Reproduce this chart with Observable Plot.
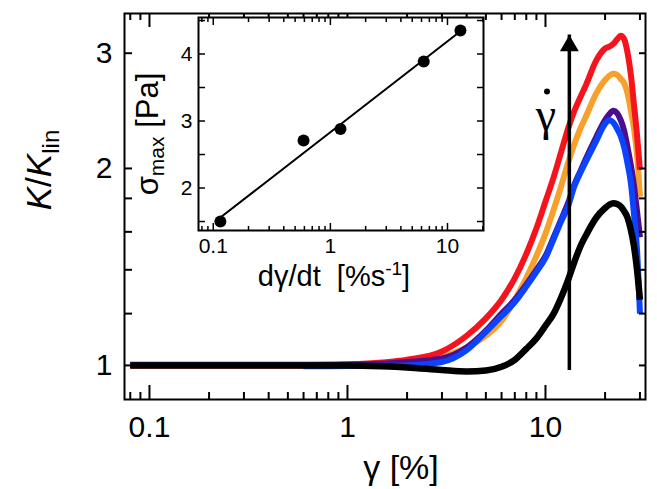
<!DOCTYPE html>
<html><head><meta charset="utf-8">
<script src="https://cdn.jsdelivr.net/npm/d3@7"></script>
<script src="https://cdn.jsdelivr.net/npm/@observablehq/plot@0.6"></script>
<style>
html,body{margin:0;padding:0;background:#fff;}
#wrap{position:relative;width:657px;height:489px;overflow:hidden;font-family:"Liberation Sans",Arial,sans-serif;}
#main,#inset{position:absolute;top:0;}
#main{left:0;}
#inset{left:150px;}
</style></head>
<body><div id="wrap"><div id="main"></div><div id="inset"></div></div>
<script>
// ---------- main panel data ----------
const strain = [0.08, 0.3, 0.6, 1, 1.5, 2, 3, 4, 5, 6, 7, 8, 9, 10, 11, 12, 13, 14, 15, 16, 18, 20, 21, 22, 23, 24, 25, 26, 27, 28, 29, 30];
const kRed    = [1, 1, 1, 1.003, 1.01, 1.02, 1.05, 1.11, 1.18, 1.26, 1.36, 1.48, 1.62, 1.78, 1.94, 2.12, 2.3, 2.45, 2.57, 2.68, 2.92, 3.05, 3.07, 3.1, 3.15, 3.19, 3.15, 3.0, 2.78, 2.5, 2.25, 1.99];
const kOrange = [1, 1, 1, 1, 1.004, 1.01, 1.03, 1.065, 1.11, 1.17, 1.26, 1.36, 1.47, 1.59, 1.73, 1.88, 2.04, 2.18, 2.3, 2.4, 2.6, 2.73, 2.77, 2.79, 2.78, 2.74, 2.7, 2.6, 2.45, 2.3, 2.1, 1.81];
const kPurple = [1.002, 1.002, 1.002, 1.003, 1.006, 1.012, 1.025, 1.065, 1.13, 1.2, 1.26, 1.33, 1.4, 1.47, 1.57, 1.67, 1.77, 1.89, 1.98, 2.07, 2.23, 2.37, 2.42, 2.45, 2.43, 2.37, 2.28, 2.15, 2.02, 1.88, 1.72, 1.57];
const kBlue   = [null, null, 0.997, 0.998, 0.999, 1.0, 1.012, 1.055, 1.125, 1.19, 1.25, 1.32, 1.39, 1.46, 1.56, 1.66, 1.75, 1.88, 1.97, 2.05, 2.2, 2.34, 2.37, 2.35, 2.3, 2.24, 2.15, 2.03, 1.9, 1.7, 1.5, 1.2];
const kBlack  = [1, 1, 1, 1, 0.997, 0.993, 0.984, 0.979, 0.982, 0.995, 1.02, 1.06, 1.1, 1.15, 1.2, 1.27, 1.35, 1.44, 1.52, 1.58, 1.68, 1.74, 1.76, 1.77, 1.765, 1.75, 1.72, 1.68, 1.61, 1.52, 1.4, 1.26];
const seriesNames  = ["orange", "red", "purple", "blue", "black"];
const seriesColors = ["#f7a02c", "#f5141e", "#4a0e8e", "#0a44ff", "#000000"];
const seriesValues = [kOrange, kRed, kPurple, kBlue, kBlack];

const xMajorTicks = [0.1, 1, 10];
const xMinorTicks = [0.08, 0.09, 0.2, 0.3, 0.4, 0.5, 0.6, 0.7, 0.8, 0.9, 2, 3, 4, 5, 6, 7, 8, 9, 20, 30];
const yTicks = [1, 1.2, 1.4, 1.6, 1.8, 2, 3];
const yTickLabels = [1, 2, 3];

// arrow (rate direction) and its label
const arrowStrain = 13.2;
const arrowK = [0.982, 3.2];
const rateLabelPos = [10.06, 2.41];

// ---------- inset data ----------
const rate  = [0.115, 0.59, 1.22, 6.27, 12.9];
const sigma = [1.5, 2.71, 2.88, 3.89, 4.35];
const fitRate  = [0.115, 12.9];
const fitSigma = [1.56, 4.34];
const insetXMajor = [0.1, 1, 10];
const insetXMinor = [0.08, 0.09, 0.2, 0.3, 0.4, 0.5, 0.6, 0.7, 0.8, 0.9, 2, 3, 4, 5, 6, 7, 8, 9, 20];
const insetYTicks = [1.5, 2, 2.5, 3, 3.5, 4, 4.5];
const insetYLabels = [2, 3, 4];

const FONT = "Liberation Sans, Arial, sans-serif";
const SERIF = "Liberation Serif, DejaVu Serif, serif";

// ---------- main plot ----------
const lineMarks = seriesNames.map((name, si) => {
  const rows = strain.map((x, i) => ({x, y: seriesValues[si][i]})).filter(d => d.y != null);
  return Plot.line(rows, {x: "x", y: "y", stroke: seriesColors[si], strokeWidth: name === "black" ? 6.5 : 6, curve: "monotone-x", strokeLinecap: "butt", strokeLinejoin: "round"});
});

const main = Plot.plot({
  width: 657, height: 489,
  marginLeft: 124, marginRight: 12, marginTop: 13, marginBottom: 90,
  style: {fontFamily: FONT, background: "white", overflow: "visible"},
  x: {type: "log", domain: [0.0748, 32], axis: null},
  y: {type: "log", domain: [0.887, 3.45], axis: null},
  marks: [
    ...lineMarks,
    Plot.ruleX([arrowStrain], {y1: arrowK[0], y2: arrowK[1], strokeWidth: 3.5, stroke: "black"}),
    Plot.dot([arrowStrain], {x: d => d, y: arrowK[1], symbol: "triangle", r: 7, fill: "black", stroke: "none", dy: 10.9}),
    Plot.text([rateLabelPos], {x: d => d[0], y: d => d[1], text: () => "γ", fontFamily: SERIF, fontSize: 46, lineAnchor: "middle"}),
    Plot.dot([rateLabelPos], {x: d => d[0], y: d => d[1], r: 3, fill: "black", stroke: "none", dy: -24, dx: 1}),
    // ticks (inward)
    Plot.axisX({anchor: "bottom", ticks: xMajorTicks, tickSize: 14, dy: -14, fill: "none", label: null, strokeWidth: 2}),
    Plot.axisX({anchor: "bottom", ticks: xMinorTicks, tickSize: 7, dy: -7, fill: "none", label: null, strokeWidth: 2}),
    Plot.axisX({anchor: "top", ticks: xMajorTicks, tickSize: 13, dy: 13, fill: "none", label: null, strokeWidth: 2}),
    Plot.axisX({anchor: "top", ticks: xMinorTicks, tickSize: 6, dy: 6, fill: "none", label: null, strokeWidth: 2}),
    Plot.axisY({anchor: "left", ticks: yTicks, tickSize: 8, dx: 8, fill: "none", label: null, strokeWidth: 2}),
    Plot.axisY({anchor: "right", ticks: yTicks, tickSize: 7, dx: -7, fill: "none", label: null, strokeWidth: 2}),
    // labels
    Plot.axisX({anchor: "bottom", ticks: xMajorTicks, tickSize: 0, tickPadding: 16, tickFormat: d => String(d), fontSize: 30, fontFamily: FONT, label: null, lineAnchor: "top"}),
    Plot.axisY({anchor: "left", ticks: yTickLabels, tickSize: 0, tickPadding: 12, tickFormat: d => String(d), fontSize: 30, fontFamily: FONT, label: null}),
    Plot.frame({strokeWidth: 2, stroke: "black"})
  ]
});
document.getElementById("main").appendChild(main);

const ms = d3.select(main);
ms.append("text").attr("x", 401).attr("y", 479).attr("text-anchor", "middle")
  .attr("font-family", FONT).attr("font-size", 34).attr("fill", "black").text("γ [%]");
const yl = ms.append("text").attr("transform", "translate(51,170) rotate(-90)").attr("text-anchor", "middle")
  .attr("font-family", FONT).attr("font-size", 35).attr("fill", "black");
yl.append("tspan").attr("font-style", "italic").text("K");
yl.append("tspan").text("/");
yl.append("tspan").attr("font-style", "italic").text("K");
yl.append("tspan").attr("font-size", 24).attr("dy", 8).text("lin");

// ---------- inset plot ----------
const inset = Plot.plot({
  width: 340, height: 290,
  marginLeft: 48, marginRight: 7, marginTop: 17, marginBottom: 60,
  style: {fontFamily: FONT, background: "transparent", overflow: "visible"},
  x: {type: "log", domain: [0.0748, 20.3], axis: null},
  y: {type: "linear", domain: [1.366, 4.545], axis: null},
  marks: [
    Plot.frame({fill: "white", stroke: "none"}),
    Plot.line(fitRate.map((r, i) => ({r, s: fitSigma[i]})), {x: "r", y: "s", stroke: "black", strokeWidth: 2}),
    Plot.dot(rate.map((r, i) => ({r, s: sigma[i]})), {x: "r", y: "s", r: 6, fill: "black", stroke: "none"}),
    Plot.axisX({anchor: "bottom", ticks: insetXMajor, tickSize: 7, dy: -7, fill: "none", label: null, strokeWidth: 1.5}),
    Plot.axisX({anchor: "bottom", ticks: insetXMinor, tickSize: 4, dy: -4, fill: "none", label: null, strokeWidth: 1.5}),
    Plot.axisX({anchor: "top", ticks: insetXMajor, tickSize: 7, dy: 7, fill: "none", label: null, strokeWidth: 1.5}),
    Plot.axisX({anchor: "top", ticks: insetXMinor, tickSize: 4, dy: 4, fill: "none", label: null, strokeWidth: 1.5}),
    Plot.axisY({anchor: "left", ticks: insetYTicks, tickSize: 7, dx: 7, fill: "none", label: null, strokeWidth: 1.5}),
    Plot.axisY({anchor: "right", ticks: insetYTicks, tickSize: 7, dx: -7, fill: "none", label: null, strokeWidth: 1.5}),
    Plot.axisX({anchor: "bottom", ticks: insetXMajor, tickSize: 0, tickPadding: 8, tickFormat: d => String(d), fontSize: 21, fontFamily: FONT, label: null, lineAnchor: "top"}),
    Plot.axisY({anchor: "left", ticks: insetYLabels, tickSize: 0, tickPadding: 6, tickFormat: d => String(d), fontSize: 21, fontFamily: FONT, label: null}),
    Plot.frame({strokeWidth: 2, stroke: "black"})
  ]
});
document.getElementById("inset").appendChild(inset);
const is = d3.select(inset);
const il = is.append("text").attr("transform", "translate(8,134) rotate(-90)").attr("text-anchor", "middle")
  .attr("font-family", FONT).attr("font-size", 31).attr("fill", "black");
il.append("tspan").text("σ");
il.append("tspan").attr("font-size", 21).attr("dy", 6).text("max");
il.append("tspan").attr("dy", -6).text(" [Pa]");
const xl = is.append("text").attr("x", 184).attr("y", 286).attr("text-anchor", "middle")
  .attr("font-family", FONT).attr("font-size", 29).attr("fill", "black");
xl.append("tspan").text("dγ/dt  [%s");
xl.append("tspan").attr("font-size", 19).attr("dy", -11).text("-1");
xl.append("tspan").attr("dy", 11).text("]");
</script></body></html>
